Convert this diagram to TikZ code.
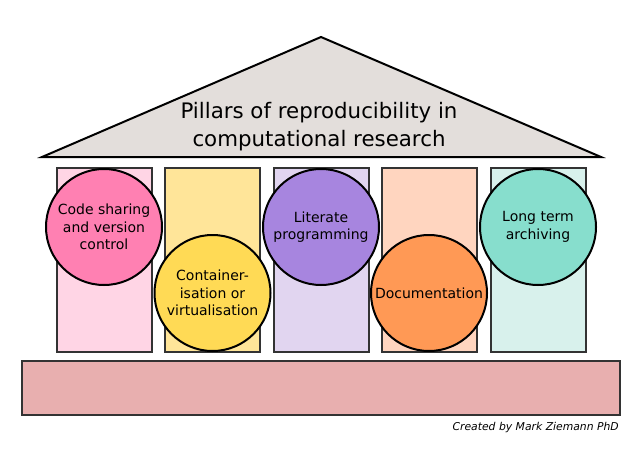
\documentclass[tikz,border=0pt]{standalone}
\usepackage{fontspec}
\setmainfont{DejaVu Sans}
\begin{document}
\begin{tikzpicture}[x=0.75pt,y=-0.75pt,
  pillar/.style={draw=black!80, line width=1.5pt, minimum width=95*0.75pt, minimum height=184*0.75pt, inner sep=0pt},
  disc/.style={circle, draw=black, line width=1.5pt, minimum size=116*0.75pt, inner sep=0pt, align=center, font=\fontsize{10.5pt}{13pt}\selectfont},
]
\useasboundingbox (0,0) rectangle (642,453);
% roof
\coordinate (apex) at (321,37);
\coordinate (rl) at (42,157);
\coordinate (rr) at (601,157);
\draw[fill={rgb,255:red,227;green,222;blue,219}, line width=1.5pt, line join=miter] (apex) -- (rr) -- (rl) -- cycle;
\node[align=center, font=\fontsize{16pt}{21pt}\selectfont] (title) at (319,127) {Pillars of reproducibility in\\computational research};
% pillars
\node[pillar, fill={rgb,255:red,255;green,213;blue,229}] (p1) at (104.5,260) {};
\node[pillar, fill={rgb,255:red,255;green,229;blue,153}] (p2) at (212.5,260) {};
\node[pillar, fill={rgb,255:red,225;green,213;blue,240}] (p3) at (321,260) {};
\node[pillar, fill={rgb,255:red,255;green,213;blue,191}] (p4) at (429.5,260) {};
\node[pillar, fill={rgb,255:red,216;green,241;blue,236}] (p5) at (538,260) {};
% circles
\node[disc, fill={rgb,255:red,255;green,128;blue,178}] (c1) at (104,227) {Code sharing\\and version\\control};
\node[disc, fill={rgb,255:red,255;green,218;blue,85}] (c2) at (212.5,293) {Container-\\isation or\\virtualisation};
\node[disc, fill={rgb,255:red,167;green,133;blue,223}] (c3) at (321,227) {Literate\\programming};
\node[disc, fill={rgb,255:red,255;green,153;blue,85}] (c4) at (429,293) {Documentation};
\node[disc, fill={rgb,255:red,135;green,222;blue,205}] (c5) at (538,227) {Long term\\archiving};
% base
\node[draw=black!80, line width=1.5pt, fill={rgb,255:red,232;green,175;blue,175}, minimum width=598*0.75pt, minimum height=54*0.75pt, inner sep=0pt] (base) at (321,388) {};
\node[anchor=east, inner sep=0pt, font=\fontsize{8.1pt}{10pt}\selectfont\itshape] (credit) at (619,428) {Created by Mark Ziemann PhD};
\end{tikzpicture}
\end{document}
